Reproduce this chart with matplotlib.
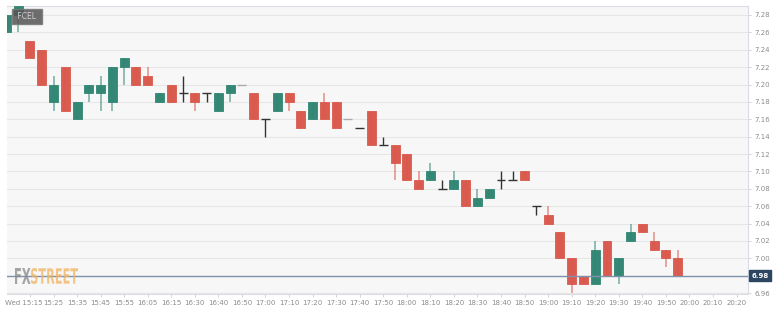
import matplotlib.pyplot as plt
import numpy as np
from matplotlib.textpath import TextPath
from matplotlib.patches import PathPatch
from matplotlib.font_manager import FontProperties
from matplotlib.transforms import Affine2D, IdentityTransform, ScaledTranslation

# 5-minute candles, index 0 = 15:15 (two candles before that are cut off at the left)
idx = np.arange(-2, 56)
opens = [7.26, 7.28, 7.25, 7.24, 7.18, 7.22, 7.16, 7.19, 7.19, 7.18,
         7.22, 7.22, 7.21, 7.18, 7.20, 7.19, 7.19, 7.19, 7.17, 7.19,
         7.20, 7.19, 7.16, 7.17, 7.19, 7.17, 7.16, 7.18, 7.18, 7.16,
         7.15, 7.17, 7.13, 7.13, 7.12, 7.09, 7.09, 7.08, 7.08, 7.09,
         7.06, 7.07, 7.09, 7.09, 7.10, 7.06, 7.05, 7.03, 7.00, 6.98,
         6.97, 7.02, 6.98, 7.02, 7.04, 7.02, 7.01, 7.00]
highs = [7.28, 7.29, 7.25, 7.24, 7.21, 7.22, 7.18, 7.20, 7.21, 7.22,
         7.23, 7.22, 7.22, 7.19, 7.20, 7.21, 7.19, 7.19, 7.19, 7.20,
         7.20, 7.19, 7.16, 7.19, 7.19, 7.17, 7.18, 7.19, 7.18, 7.16,
         7.15, 7.17, 7.14, 7.13, 7.12, 7.10, 7.11, 7.09, 7.10, 7.09,
         7.08, 7.08, 7.10, 7.10, 7.10, 7.06, 7.06, 7.03, 7.00, 6.98,
         7.02, 7.02, 7.00, 7.04, 7.04, 7.03, 7.01, 7.01]
lows = [7.26, 7.26, 7.23, 7.20, 7.17, 7.17, 7.16, 7.18, 7.17, 7.17,
        7.20, 7.20, 7.20, 7.18, 7.18, 7.18, 7.17, 7.18, 7.17, 7.18,
        7.20, 7.16, 7.14, 7.17, 7.17, 7.15, 7.16, 7.16, 7.15, 7.16,
        7.15, 7.13, 7.13, 7.09, 7.09, 7.08, 7.09, 7.08, 7.08, 7.06,
        7.06, 7.07, 7.08, 7.09, 7.09, 7.05, 7.04, 7.00, 6.96, 6.97,
        6.97, 6.98, 6.97, 7.02, 7.03, 7.01, 6.99, 6.98]
closes = [7.28, 7.29, 7.23, 7.20, 7.20, 7.17, 7.18, 7.20, 7.20, 7.22,
          7.23, 7.20, 7.20, 7.19, 7.18, 7.19, 7.18, 7.19, 7.19, 7.20,
          7.20, 7.16, 7.16, 7.19, 7.18, 7.15, 7.18, 7.16, 7.15, 7.16,
          7.15, 7.13, 7.13, 7.11, 7.09, 7.08, 7.10, 7.08, 7.09, 7.06,
          7.07, 7.08, 7.09, 7.09, 7.09, 7.06, 7.04, 7.00, 6.97, 6.97,
          7.01, 6.98, 7.00, 7.03, 7.03, 7.01, 7.00, 6.98]
gray_doji = [18, 27]   # flat candles drawn in light gray

tick_labels = ['Wed 15:15', '15:25', '15:35', '15:45', '15:55', '16:05', '16:15',
               '16:30', '16:40', '16:50', '17:00', '17:10', '17:20', '17:30',
               '17:40', '17:50', '18:00', '18:10', '18:20', '18:30', '18:40',
               '18:50', '19:00', '19:10', '19:20', '19:30', '19:40', '19:50',
               '20:00', '20:10', '20:20']
y_ticks = [6.96, 6.98, 7.00, 7.02, 7.04, 7.06, 7.08, 7.10, 7.12, 7.14,
           7.16, 7.18, 7.20, 7.22, 7.24, 7.26, 7.28]
last_price = 6.98
symbol = 'FCEL'

RED = '#d9574a'
GREEN = '#2e8572'
H = 316

fig = plt.figure(figsize=(7.79, 3.16), dpi=100)
ax = fig.add_axes([0.009, 0.071, 0.9516, 0.910])
ax.set_facecolor('#f7f7f7')

ax.set_xlim(-1.95, 61.0)
ax.set_ylim(6.9595, 7.2903)

# grid
for yt in y_ticks:
    ax.axhline(yt, color='#e6e6e6', lw=0.8, zorder=0)


def logo_word(word, x0, x1, ytop, ybot, color):
    # squeeze a bold word into a pixel box (condensed look of the logo)
    tp = TextPath((0, 0), word, size=10,
                  prop=FontProperties(family='DejaVu Sans', weight='bold'))
    ext = tp.get_extents()
    sx = (x1 - x0) / ext.width
    sy = (ybot - ytop) / ext.height
    tr = Affine2D().translate(-ext.x0, -ext.y0).scale(sx, sy) \
        .translate(x0, H - ybot)
    fig.patches.append(PathPatch(tr.transform_path(tp), fc=color, ec='none',
                                 alpha=0.75, transform=IdentityTransform(),
                                 figure=fig, zorder=1))


w = 0.76
for i, o, h, l, c in zip(idx, opens, highs, lows, closes):
    if o == c:
        col = '#aaaaaa' if i in gray_doji else '#333333'
        ax.vlines(i, l, h, color=col, lw=1.0, zorder=2)
        ax.hlines(o, i - w / 2, i + w / 2, color=col, lw=1.0, zorder=2)
        continue
    col = GREEN if c > o else RED
    ax.vlines(i, l, h, color=col, lw=1.2, alpha=0.6, zorder=2)
    ax.bar(i, abs(c - o), bottom=min(o, c), width=w, color=col,
           edgecolor=col, linewidth=0.6, alpha=0.97, zorder=3)

# last price line + label
ax.axhline(last_price, color='#7d93ad', lw=1.0, zorder=4)
ax.text(61.25, last_price, '{:.2f}'.format(last_price), transform=ax.transData,
        ha='left', va='center', fontsize=5, color='white', fontweight='bold',
        clip_on=False, zorder=6,
        bbox=dict(boxstyle='square,pad=0.35', fc='#2b4563', ec='#2b4563'))

# symbol box
ax.text(0.011, 0.962, ' ' + symbol + ' ', transform=ax.transAxes, ha='left',
        va='center', fontsize=5.5, color='#d0d0d0', zorder=6,
        bbox=dict(boxstyle='square,pad=0.4', fc='#555555', ec='#777777',
                  alpha=0.85))

# watermark
logo_word('FX', 15, 30.5, 268, 284, '#888888')
logo_word('STREET', 31, 78, 268, 284, '#f0b461')

# axes styling
ax.set_xticks(np.arange(0, 61, 2))
ax.set_xticklabels(tick_labels)
ax.yaxis.tick_right()
ax.set_yticks(y_ticks)
ax.set_yticklabels(['' if abs(v - last_price) < 1e-9 else '{:.2f}'.format(v)
                    for v in y_ticks])
ax.tick_params(axis='x', length=2.5, width=0.6, color='#cccccc',
               labelsize=5, labelcolor='#8c8c8c', pad=2)
ax.tick_params(axis='y', length=2.5, width=0.6, color='#cccccc',
               labelsize=5, labelcolor='#8c8c8c', pad=2)
first = ax.get_xticklabels()[0]
first.set_ha('left')
first.set_transform(first.get_transform() +
                    ScaledTranslation(-0.245, 0, fig.dpi_scale_trans))
ax.spines['left'].set_visible(False)
for s in ['top', 'right', 'bottom']:
    ax.spines[s].set_color('#dcdce6')
    ax.spines[s].set_linewidth(0.8)

plt.savefig('out.png', dpi=100)
